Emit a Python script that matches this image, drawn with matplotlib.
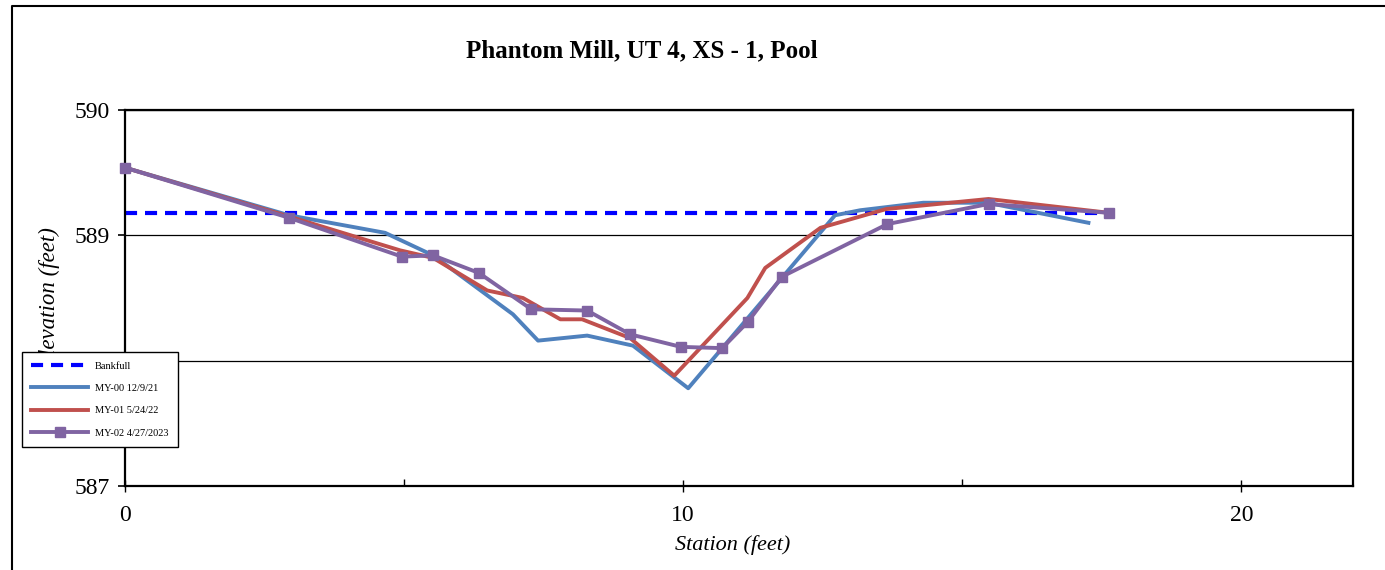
import matplotlib
matplotlib.use("Agg")
import matplotlib.pyplot as plt
from matplotlib.lines import Line2D
from matplotlib.ticker import MultipleLocator

plt.rcParams['font.family'] = 'Liberation Serif'

# Cross-section survey data (station ft, elevation ft)
bankfull_x = [0, 17.62]
bankfull_y = [589.18, 589.18]

station_00 = [0, 2.94, 4.66, 5.52, 6.95, 7.40, 8.28, 9.10, 10.09, 12.72, 13.17, 14.30, 15.45, 17.26]
elev_00 = [589.54, 589.16, 589.02, 588.84, 588.37, 588.16, 588.20, 588.12, 587.78, 589.16, 589.20, 589.26, 589.26, 589.10]

station_01 = [0, 2.94, 4.93, 5.52, 6.49, 7.13, 7.80, 8.19, 9.05, 9.84, 11.15, 11.47, 12.46, 13.64, 15.47, 17.62]
elev_01 = [589.54, 589.15, 588.88, 588.82, 588.56, 588.50, 588.33, 588.33, 588.18, 587.88, 588.50, 588.74, 589.06, 589.21, 589.29, 589.18]

station_02 = [0, 2.94, 4.96, 5.52, 6.34, 7.28, 8.28, 9.05, 9.96, 10.70, 11.16, 11.77, 13.66, 15.47, 17.62]
elev_02 = [589.54, 589.14, 588.83, 588.84, 588.70, 588.41, 588.40, 588.21, 588.11, 588.10, 588.31, 588.67, 589.09, 589.25, 589.18]

W, H = 1385, 570
fig = plt.figure(figsize=(W / 100, H / 100), dpi=100)
ax = fig.add_axes([125 / W, 1 - 486 / H, (1353 - 125) / W, (486 - 110) / H])

ax.plot(bankfull_x, bankfull_y, color='#0000FF', lw=3, dashes=(2.9, 1.9), label='Bankfull', zorder=2)
ax.plot(station_00, elev_00, color='#4F81BD', lw=2.8, label='MY-00 12/9/21', zorder=3)
ax.plot(station_01, elev_01, color='#C0504D', lw=2.8, label='MY-01 5/24/22', zorder=4)
ax.plot(station_02, elev_02, color='#8064A2', lw=2.8, marker='s', markersize=7,
        label='MY-02 4/27/2023', zorder=5, clip_on=False)

ax.set_xlim(0, 22)
ax.set_ylim(587, 590)
ax.xaxis.set_major_locator(MultipleLocator(10))
ax.xaxis.set_minor_locator(MultipleLocator(5))
ax.yaxis.set_major_locator(MultipleLocator(1))
ax.grid(axis='y', color='black', lw=0.9)
ax.set_axisbelow(True)

for s in ax.spines.values():
    s.set_linewidth(1.6)

ax.tick_params(axis='x', which='major', direction='inout', length=9, width=1, labelsize=17, pad=9)
ax.tick_params(axis='x', which='minor', direction='in', length=5, width=1)
ax.tick_params(axis='y', direction='out', length=5, width=1.2, labelsize=17, pad=6)

ax.set_xlabel('Station (feet)', fontsize=16, style='italic')
ax.xaxis.set_label_coords(0.495, -0.13)
ax.set_ylabel('Elevation (feet)', fontsize=16.5, style='italic')
ax.yaxis.set_label_coords(-0.053, 0.5)

fig.text(642 / W, 1 - 51 / H, 'Phantom Mill, UT 4, XS - 1, Pool', fontsize=18,
         fontweight='bold', ha='center', va='center')

leg = fig.legend(loc='upper left', bbox_to_anchor=(22 / W, 1 - 352 / H),
                 bbox_transform=fig.transFigure, borderaxespad=0, fontsize=7.5,
                 fancybox=False, edgecolor='black', framealpha=1,
                 handlelength=5.4, handletextpad=0.7, labelspacing=1.25,
                 borderpad=0.9)
leg.get_frame().set_linewidth(1.0)

# outer chart border
fig.add_artist(Line2D([12 / W, 12 / W, 1.0], [0.0, 1 - 5.5 / H, 1 - 5.5 / H],
                      transform=fig.transFigure, color='black', lw=1.5))

fig.savefig('out.png', dpi=100)
